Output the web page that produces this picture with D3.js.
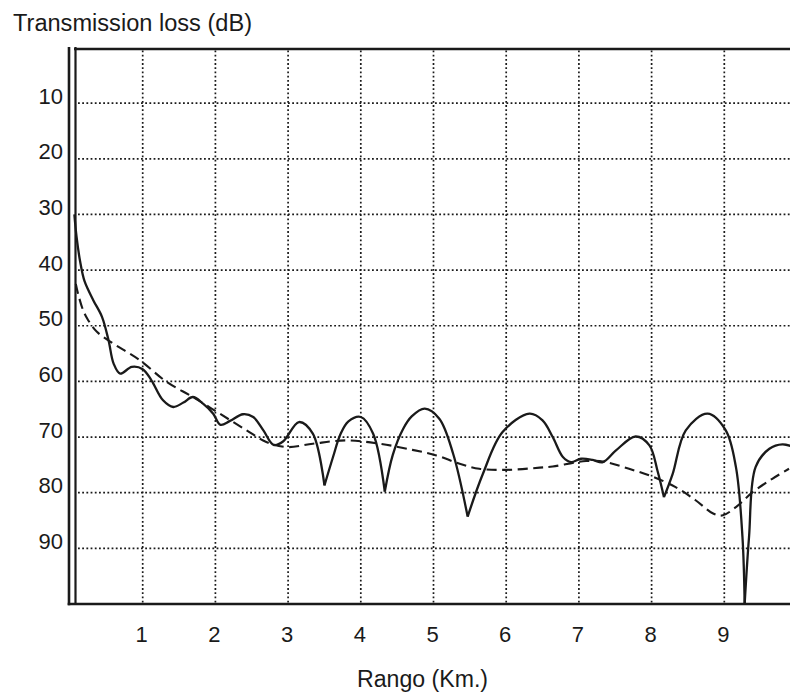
<!DOCTYPE html>
<html>
<head>
<meta charset="utf-8">
<script src="https://cdn.jsdelivr.net/npm/d3@7"></script>
<style>
  html, body { margin: 0; padding: 0; background: #fff; }
  svg { display: block; }
  text { font-family: "Liberation Sans", Arial, Helvetica, sans-serif; fill: #1a1a1a; }
</style>
</head>
<body>
<svg id="chart" width="790" height="695"></svg>
<script>
// ---- data ----
const xTicks = [1, 2, 3, 4, 5, 6, 7, 8, 9];
const yTicks = [10, 20, 30, 40, 50, 60, 70, 80, 90];
const yTitle = "Transmission loss (dB)";
const xTitle = "Rango (Km.)";

// solid curve: [range km, loss dB]
const solidKm = [0.06, 0.09, 0.14, 0.2, 0.32, 0.44, 0.53, 0.6, 0.69, 0.85, 1.0, 1.12, 1.28, 1.42, 1.56, 1.69, 1.83, 1.97, 2.07, 2.2, 2.38, 2.52, 2.66, 2.8, 2.93, 3.15, 3.34, 3.50, 3.62, 3.72, 3.83, 4.0, 4.17, 4.33, 4.44, 4.58, 4.7, 4.88, 5.08, 5.27, 5.47, 5.68, 5.95, 6.32, 6.5, 6.64, 6.78, 6.89, 7.03, 7.19, 7.33, 7.51, 7.78, 7.97, 8.08, 8.17, 8.29, 8.47, 8.77, 9.02, 9.16, 9.25, 9.28, 9.34, 9.43, 9.62, 9.80, 9.95];
const solidDb = [30, 34, 38.5, 42, 45.4, 48.4, 52.6, 56.8, 58.6, 57.4, 57.8, 59.8, 63.4, 64.6, 63.8, 62.8, 64, 65.8, 67.8, 67.1, 65.9, 66.4, 68.8, 71.4, 70.8, 67.3, 69.4, 78.7, 73.5, 69.5, 67.2, 66.4, 69.4, 79.8, 73.2, 68.6, 66.3, 64.9, 66.7, 73, 84.3, 76.6, 69.1, 65.8, 67, 70, 73.6, 74.5, 73.9, 74.1, 74.5, 72.4, 69.9, 71.5, 76, 80.8, 76.6, 68.8, 65.8, 68.8, 75.4, 88, 100, 88, 75.4, 72.1, 71.3, 71.8];
// sharp nulls of the solid curve (km)
const solidNullKm = [3.50, 4.33, 5.47, 8.17, 9.28];

// dashed curve
const dashedKm = [0.08, 0.11, 0.18, 0.25, 0.37, 0.57, 0.96, 1.33, 1.69, 2.06, 2.43, 2.7, 2.98, 3.34, 3.8, 4.26, 4.71, 5.04, 5.36, 5.63, 6.0, 6.46, 6.64, 7.1, 7.37, 7.69, 8.01, 8.33, 8.61, 8.84, 8.97, 9.16, 9.39, 9.66, 9.89];
const dashedDb = [42.5, 44.2, 47.2, 49, 51.1, 53, 56.2, 60.1, 62.8, 65.8, 68.8, 70.9, 71.8, 71.2, 70.6, 71.2, 72.3, 73.3, 74.8, 75.7, 75.9, 75.5, 75.3, 74.3, 74.5, 75.7, 77.1, 79, 81.4, 83.7, 84.1, 82.6, 79.9, 77.5, 75.7];

// ---- drawing ----
const svg = d3.select("#chart");
const ink = "#1a1a1a";
const x = d3.scaleLinear().domain([0, 10]).range([70, 797]);
const y = d3.scaleLinear().domain([0, 100]).range([47.5, 604]);
const W = 790;

// grid
const grid = svg.append("g").attr("stroke", ink).attr("stroke-width", 1.7)
  .attr("stroke-dasharray", "1.8,2.4").attr("fill", "none");
grid.selectAll("line.v").data(xTicks).join("line").attr("class", "v")
  .attr("x1", d => x(d)).attr("x2", d => x(d)).attr("y1", y(0) + 3).attr("y2", y(100) - 1);
grid.selectAll("line.h").data(yTicks).join("line").attr("class", "h")
  .attr("x1", 78).attr("x2", W).attr("y1", d => y(d)).attr("y2", d => y(d));

// frame
const frame = svg.append("g").attr("stroke", ink).attr("fill", "none");
frame.append("line").attr("x1", 69).attr("x2", 69).attr("y1", y(0) - 0.5).attr("y2", y(100) + 1.2).attr("stroke-width", 2.6);
frame.append("line").attr("x1", 75.5).attr("x2", 75.5).attr("y1", y(0) - 0.5).attr("y2", y(100)).attr("stroke-width", 2.2);
frame.append("line").attr("x1", 74).attr("x2", W).attr("y1", y(0) + 1.5).attr("y2", y(0) + 1.5).attr("stroke-width", 2.6);
frame.append("line").attr("x1", 67.7).attr("x2", W).attr("y1", y(100)).attr("y2", y(100)).attr("stroke-width", 2.6);

// tick labels
svg.append("g").selectAll("text").data(yTicks).join("text")
  .attr("x", 63).attr("y", d => y(d) + 0.5).attr("text-anchor", "end")
  .attr("font-size", 22).text(d => d);
svg.append("g").selectAll("text").data(xTicks).join("text")
  .attr("x", d => x(d) - 1).attr("y", 642).attr("text-anchor", "middle")
  .attr("font-size", 22).text(d => d);

// titles
svg.append("text").attr("x", 13).attr("y", 31).attr("font-size", 23)
  .attr("textLength", 239).attr("lengthAdjust", "spacingAndGlyphs").text(yTitle);
svg.append("text").attr("x", 357).attr("y", 687).attr("font-size", 23)
  .attr("textLength", 131).attr("lengthAdjust", "spacingAndGlyphs").text(xTitle);

// clip to plotting area
svg.append("clipPath").attr("id", "plot").append("rect")
  .attr("x", 72).attr("y", y(0)).attr("width", W - 72).attr("height", y(100) - y(0));

const solid = solidKm.map((k, i) => [k, solidDb[i]]);
const dashed = dashedKm.map((k, i) => [k, dashedDb[i]]);

// split solid series at its sharp nulls
const pieces = [];
let cur = [];
solid.forEach(p => {
  cur.push(p);
  if (solidNullKm.includes(p[0])) { pieces.push(cur); cur = [p]; }
});
if (cur.length > 1) pieces.push(cur);

const lineSolid = d3.line().x(d => x(d[0])).y(d => y(d[1])).curve(d3.curveCatmullRom.alpha(0.5));
const lineDashed = d3.line().x(d => x(d[0])).y(d => y(d[1])).curve(d3.curveCatmullRom.alpha(0.5));

const plot = svg.append("g").attr("clip-path", "url(#plot)");
plot.append("path").datum(dashed).attr("d", lineDashed)
  .attr("fill", "none").attr("stroke", ink).attr("stroke-width", 2.1)
  .attr("stroke-dasharray", "10,5.5");
plot.selectAll("path.solid").data(pieces).join("path").attr("class", "solid")
  .attr("d", lineSolid).attr("fill", "none").attr("stroke", ink)
  .attr("stroke-width", 2.3).attr("stroke-linejoin", "round");
</script>
</body>
</html>
